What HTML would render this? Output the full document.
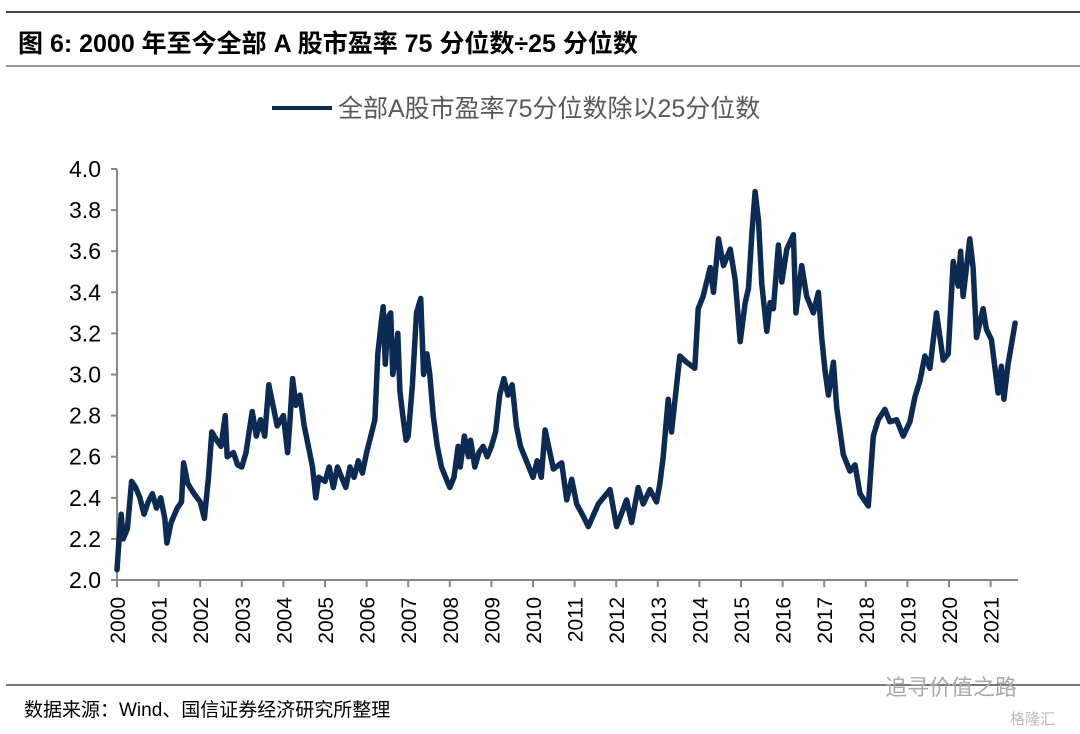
<!DOCTYPE html>
<html><head><meta charset="utf-8">
<style>
body{margin:0;background:#fff;}
#wrap{position:relative;width:1080px;height:734px;overflow:hidden;font-family:"Liberation Sans","Noto Sans CJK SC",sans-serif;}
</style></head>
<body>
<div id="wrap">
<svg id="svg" width="1080" height="734" xmlns="http://www.w3.org/2000/svg">
  <line x1="6" y1="12" x2="1080" y2="12" stroke="#444" stroke-width="2"/>
  <text x="18" y="52" font-size="25" font-weight="bold" fill="#000" font-family="Liberation Sans, Noto Sans CJK SC, sans-serif">图 6:  2000 年至今全部 A 股市盈率 75 分位数÷25 分位数</text>
  <line x1="6" y1="66" x2="1080" y2="66" stroke="#999" stroke-width="2"/>
  <line x1="272" y1="108" x2="332" y2="108" stroke="#0c2a52" stroke-width="4"/>
  <text x="338" y="117" font-size="25" fill="#595959" font-family="Liberation Sans, Noto Sans CJK SC, sans-serif">全部A股市盈率75分位数除以25分位数</text>
  <g id="axes"></g>
  <g id="plot"></g>
  <line x1="6" y1="685" x2="1080" y2="685" stroke="#777" stroke-width="2"/>
  <text x="24" y="716" font-size="19" fill="#000" font-family="Liberation Sans, Noto Sans CJK SC, sans-serif">数据来源：Wind、国信证券经济研究所整理</text>
  <text x="885" y="695" font-size="22" fill="#aaa" font-family="Liberation Sans, Noto Sans CJK SC, sans-serif">追寻价值之路</text>
  <text x="1010" y="724" font-size="15" fill="#bbb" font-family="Liberation Sans, Noto Sans CJK SC, sans-serif">格隆汇</text>
</svg>
</div>
<script>
const dates = [2000.0,2000.05,2000.1,2000.15,2000.25,2000.35,2000.45,2000.55,2000.65,2000.75,2000.85,2000.95,
2001.05,2001.15,2001.2,2001.3,2001.45,2001.55,2001.6,2001.7,2001.85,2002.0,2002.1,2002.2,2002.28,2002.4,2002.5,2002.6,2002.65,2002.8,2002.9,
2003.0,2003.1,2003.25,2003.35,2003.45,2003.55,2003.65,2003.75,2003.85,2004.0,2004.1,2004.15,2004.22,2004.3,2004.4,2004.5,2004.6,2004.7,2004.78,2004.85,
2005.0,2005.1,2005.2,2005.3,2005.4,2005.5,2005.6,2005.7,2005.8,2005.9,2006.0,2006.1,2006.2,2006.27,2006.35,2006.4,2006.45,2006.52,2006.58,2006.63,2006.7,2006.75,2006.8,2006.87,2006.95,
2007.0,2007.1,2007.2,2007.3,2007.37,2007.45,2007.52,2007.6,2007.7,2007.8,2007.9,2008.0,2008.1,2008.2,2008.25,2008.35,2008.45,2008.5,2008.6,2008.7,2008.8,2008.9,
2009.0,2009.1,2009.2,2009.3,2009.4,2009.5,2009.6,2009.7,2009.8,2009.9,2010.0,2010.1,2010.2,
2010.29,2010.49,2010.69,2010.81,2010.93,2011.05,2011.21,2011.33,2011.57,2011.85,2012.01,2012.25,2012.37,2012.53,2012.65,2012.81,2012.97,2013.05,2013.13,2013.25,2013.33,2013.53,2013.69,2013.89,2013.97,
2014.09,2014.26,2014.34,2014.46,2014.58,2014.74,2014.86,2014.98,2015.1,2015.18,2015.26,2015.34,2015.42,2015.5,2015.62,2015.7,2015.78,2015.9,2015.98,
2016.1,2016.26,2016.32,2016.46,2016.58,2016.74,2016.86,2016.94,2017.02,2017.1,2017.22,2017.3,2017.46,2017.62,2017.74,2017.86,2018.06,2018.18,2018.3,2018.46,2018.58,2018.74,2018.9,
2019.06,2019.18,2019.3,2019.42,2019.54,2019.7,2019.86,2019.98,2020.1,2020.22,2020.28,2020.34,2020.5,2020.58,2020.66,2020.82,2020.9,2021.02,2021.18,2021.26,2021.32,2021.42,2021.59];
const ratio = [2.05,2.2,2.32,2.2,2.25,2.48,2.45,2.4,2.32,2.38,2.42,2.35,
2.4,2.3,2.18,2.28,2.35,2.38,2.57,2.47,2.42,2.38,2.3,2.5,2.72,2.68,2.65,2.8,2.6,2.62,2.56,
2.55,2.62,2.82,2.7,2.78,2.7,2.95,2.85,2.75,2.8,2.62,2.75,2.98,2.85,2.9,2.75,2.65,2.55,2.4,2.5,
2.48,2.55,2.45,2.55,2.5,2.45,2.55,2.5,2.58,2.52,2.62,2.7,2.78,3.1,3.25,3.33,3.05,3.28,3.3,3.0,3.1,3.2,2.92,2.8,2.68,
2.7,2.95,3.3,3.37,3.0,3.1,3.0,2.8,2.65,2.55,2.5,2.45,2.5,2.65,2.55,2.7,2.6,2.68,2.55,2.62,2.65,2.6,
2.65,2.72,2.9,2.98,2.9,2.95,2.75,2.65,2.6,2.55,2.5,2.58,2.5,
2.73,2.54,2.57,2.39,2.49,2.37,2.31,2.26,2.37,2.44,2.26,2.39,2.28,2.45,2.37,2.44,2.38,2.47,2.6,2.88,2.72,3.09,3.06,3.03,3.32,
3.38,3.52,3.4,3.66,3.53,3.61,3.46,3.16,3.35,3.42,3.68,3.89,3.75,3.44,3.21,3.35,3.32,3.63,3.45,
3.61,3.68,3.3,3.53,3.38,3.3,3.4,3.18,3.02,2.9,3.06,2.84,2.61,2.53,2.56,2.42,2.36,2.7,2.78,2.83,2.77,2.78,2.7,
2.77,2.89,2.97,3.09,3.03,3.3,3.07,3.1,3.55,3.43,3.6,3.38,3.66,3.52,3.18,3.32,3.22,3.17,2.91,3.04,2.88,3.05,3.25];
const yTicks = [2.0,2.2,2.4,2.6,2.8,3.0,3.2,3.4,3.6,3.8,4.0];
const yearLabels = ["2000","2001","2002","2003","2004","2005","2006","2007","2008","2009","2010","2011","2012","2013","2014","2015","2016","2017","2018","2019","2020","2021"];

const NS = "http://www.w3.org/2000/svg";
const X0 = 117, XW = 41.6, Y0 = 580, YTOP = 169;
const xScale = d => X0 + (d - 2000) * XW;
const yScale = v => Y0 - (v - 2.0) / 2.0 * (Y0 - YTOP);
function mk(tag, attrs, parent){const e=document.createElementNS(NS,tag);for(const k in attrs)e.setAttribute(k,attrs[k]);parent.appendChild(e);return e;}
const axes = document.getElementById('axes');
const plot = document.getElementById('plot');

const yAxis = mk('line',{x1:X0,y1:YTOP,x2:X0,y2:Y0,stroke:'#888','stroke-width':2},axes);


const xAxis = mk('line',{x1:X0,y1:Y0,x2:1018,y2:Y0,stroke:'#888','stroke-width':2},axes);



yTicks.forEach(v=>{
  const y=yScale(v);
  const t=mk('line',{x1:X0-6,y1:y,x2:X0,y2:y,stroke:'#888','stroke-width':2},axes);
  
  
  const l=mk('text',{x:101,y:y+8,'font-size':23,'text-anchor':'end',fill:'#000','font-family':'Liberation Sans, sans-serif'},axes);
  l.textContent=v.toFixed(1);
  
  
});
yearLabels.forEach((s,i)=>{
  const x=xScale(2000+i);
  const t=mk('line',{x1:x,y1:Y0,x2:x,y2:Y0+7,stroke:'#888','stroke-width':2},axes);
  
  
  const l=mk('text',{x:0,y:0,'font-size':21,'text-anchor':'end',fill:'#000','font-family':'Liberation Sans, sans-serif',transform:`translate(${x+8},597) rotate(-90)`},axes);
  l.textContent=s;
  
  
});
const pts = dates.map((d,i)=>xScale(d).toFixed(1)+','+yScale(ratio[i]).toFixed(1)).join(' ');
const line = mk('polyline',{points:pts,fill:'none',stroke:'#0c2a52','stroke-width':5.5,'stroke-linejoin':'round','stroke-linecap':'round'},plot);


</script>
</body></html>
